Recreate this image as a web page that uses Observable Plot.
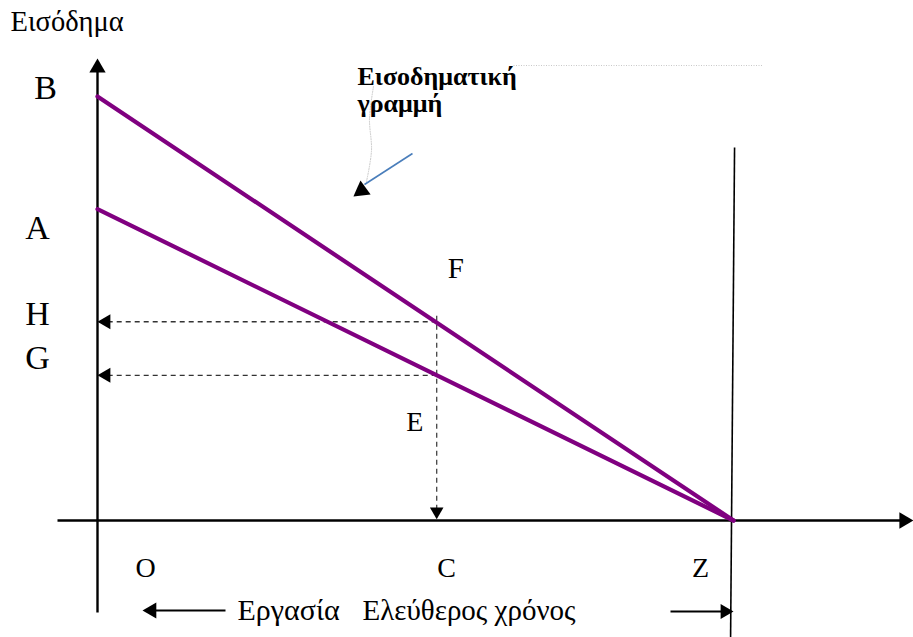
<!DOCTYPE html>
<html>
<head>
<meta charset="utf-8">
<script src="https://cdn.jsdelivr.net/npm/d3@7"></script>
<script src="https://cdn.jsdelivr.net/npm/@observablehq/plot@0.6"></script>
<style>
  html, body { margin: 0; padding: 0; background: #ffffff; }
  #chart { width: 913px; height: 637px; overflow: hidden; }
</style>
</head>
<body>
<div id="chart"></div>
<script>
// ---------- data (hours on x, income on y) ----------
const hourLabels = ["O", "C", "Z"];
const hourValues = [0, 12.8, 24];          // O = 0, C = chosen leisure, Z = total time
const incomeLabels = ["B", "A", "H", "G"];
const incomeValues = [16, 11.75, 7.5, 5.48];
const budgetNames = ["B", "A"];            // two income lines, both ending at Z
const budgetIntercepts = [16, 11.75];
const axisTitle = "Εισόδημα";
const annotation = "Εισοδηματική\nγραμμή";
const workLabel = "Εργασία";
const leisureLabel = "Ελεύθερος χρόνος";

// ---------- layout ----------
const W = 913, Hgt = 637;
const U = 26.5;           // pixels per unit
const OX = 97, OY = 520;  // pixel position of the origin
const px = v => (v - OX) / U;   // pixel -> data (x)
const py = v => (OY - v) / U;   // pixel -> data (y)

const val = (labels, values, k) => values[labels.indexOf(k)];
const Z = val(hourLabels, hourValues, "Z");
const C = val(hourLabels, hourValues, "C");
const H = val(incomeLabels, incomeValues, "H");
const G = val(incomeLabels, incomeValues, "G");

const lineData = budgetNames.flatMap((name, i) => [
  {line: name, x: 0, y: budgetIntercepts[i]},
  {line: name, x: Z, y: 0}
]);

const serif = "'Liberation Serif', 'Times New Roman', 'DejaVu Serif', serif";
const purple = "#800080";
const tri = k => k * Math.sqrt(3 * Math.sqrt(3) / Math.PI); // radius giving triangle of 3k height

function head(x, y, k, rotate, dx, dy) {
  return Plot.dot([[x, y]], {symbol: "triangle", r: tri(k), rotate, fill: "black", stroke: "none", dx, dy});
}

const incomeLabelPos = {B: {dx: -52, dy: -8}, A: {dx: -60, dy: 19}, H: {dx: -60, dy: -7.5}, G: {dx: -60, dy: -17.5}};
const hourLabelPos = {O: {dx: 48}, C: {dx: 10}, Z: {dx: -33}};

const incomeTextMarks = incomeLabels.map((lab, i) => Plot.text([lab], {
  x: 0, y: incomeValues[i], text: d => d,
  dx: incomeLabelPos[lab].dx, dy: incomeLabelPos[lab].dy,
  fontSize: 34, fontFamily: serif, fill: "black", textAnchor: "middle", lineAnchor: "middle"
}));
const hourTextMarks = hourLabels.map((lab, i) => Plot.text([lab], {
  x: hourValues[i], y: 0, text: d => d,
  dx: hourLabelPos[lab].dx, dy: 48,
  fontSize: 28, fontFamily: serif, fill: "black", textAnchor: "middle", lineAnchor: "middle"
}));

const plot = Plot.plot({
  width: W,
  height: Hgt,
  margin: 0,
  style: {background: "#ffffff", fontFamily: serif, overflow: "visible"},
  x: {domain: [px(0), px(W)], axis: null},
  y: {domain: [py(Hgt), py(0)], axis: null},
  marks: [
    // faint text-box connector
    Plot.link([{}], {x1: px(513), y1: py(65), x2: px(763), y2: py(65), stroke: "#c8c8c8", strokeWidth: 1, strokeDasharray: "1,1.5"}),
    Plot.line([[px(373), py(86)], [px(369), py(118)], [px(371), py(150)], [px(366), py(181)]],
      {curve: "catmull-rom", stroke: "#c8c8c8", strokeWidth: 1, strokeDasharray: "1,1.5"}),

    // axes
    Plot.link([{}], {x1: 0, y1: py(612), x2: 0, y2: py(64), stroke: "black", strokeWidth: 2.4}),
    head(0, py(58), 4.7, 0, 0, 9.4),
    Plot.link([{}], {x1: px(57), y1: 0, x2: px(905), y2: 0, stroke: "black", strokeWidth: 2.4}),
    head(px(913), 0, 4.7, 90, -9.4, 0),
    Plot.link([{}], {x1: Z + 0.04, y1: py(147), x2: Z - 0.11, y2: py(637), stroke: "black", strokeWidth: 1.6}),

    // dashed guides
    Plot.link([{y: H}, {y: G}], {x1: C, y1: "y", x2: 0, y2: "y", stroke: "#333", strokeWidth: 1.3, strokeDasharray: "5,4"}),
    Plot.link([{}], {x1: C, y1: H, x2: C, y2: 0, stroke: "#444", strokeWidth: 1.3, strokeDasharray: "5,4", dy: -6}),
    head(0, H, 4.3, -90, 8.6, 0),
    head(0, G, 4.3, -90, 8.6, 0),
    head(C, 0, 3.9, 180, 0, -9),

    // budget lines
    Plot.line(lineData, {x: "x", y: "y", z: "line", stroke: purple, strokeWidth: 4.2}),

    // annotation arrow
    Plot.link([{}], {x1: px(412), y1: py(153), x2: px(364), y2: py(184), stroke: "#4a7ebb", strokeWidth: 1.6}),
    Plot.dot([[px(361), py(190)]], {symbol: "triangle", r: tri(5), rotate: 234, fill: "black", stroke: "none"}),

    // bottom arrows
    Plot.link([{}], {x1: px(225), y1: py(610), x2: px(150), y2: py(610), stroke: "black", strokeWidth: 1.8}),
    head(px(142), py(610), 4.6, -90, 9.2, 0),
    Plot.link([{}], {x1: px(670), y1: py(611), x2: Z - 0.3, y2: py(611), stroke: "black", strokeWidth: 1.8}),
    head(Z, py(611), 4.3, 90, -8.6, 0),

    ...incomeTextMarks,
    ...hourTextMarks,

    // point labels F and E
    Plot.text(["F"], {x: C, y: H, text: d => d, fontSize: 29, fontFamily: serif, dx: 19, dy: -53, lineAnchor: "middle"}),
    Plot.text(["E"], {x: C, y: G, text: d => d, fontSize: 28, fontFamily: serif, dx: -22, dy: 46.5, lineAnchor: "middle"}),

    // bottom words
    Plot.text([workLabel], {x: 0, y: 0, text: d => d, fontSize: 30, fontFamily: serif, textAnchor: "start", lineAnchor: "middle", dx: 140, dy: 90}),
    Plot.text([leisureLabel], {x: 0, y: 0, text: d => d, fontSize: 29, fontFamily: serif, textAnchor: "start", lineAnchor: "middle", dx: 265, dy: 90}),

    // titles
    Plot.text([axisTitle], {frameAnchor: "top-left", text: d => d, fontSize: 28.5, fontFamily: serif, textAnchor: "start", lineAnchor: "top", dx: 10, dy: 10}),
    Plot.text([annotation], {frameAnchor: "top-left", text: d => d, fontSize: 26, fontWeight: "bold", fontFamily: serif, textAnchor: "start", lineAnchor: "top", lineHeight: 1.04, dx: 357, dy: 65})
  ]
});

document.getElementById("chart").appendChild(plot);
</script>
</body>
</html>
